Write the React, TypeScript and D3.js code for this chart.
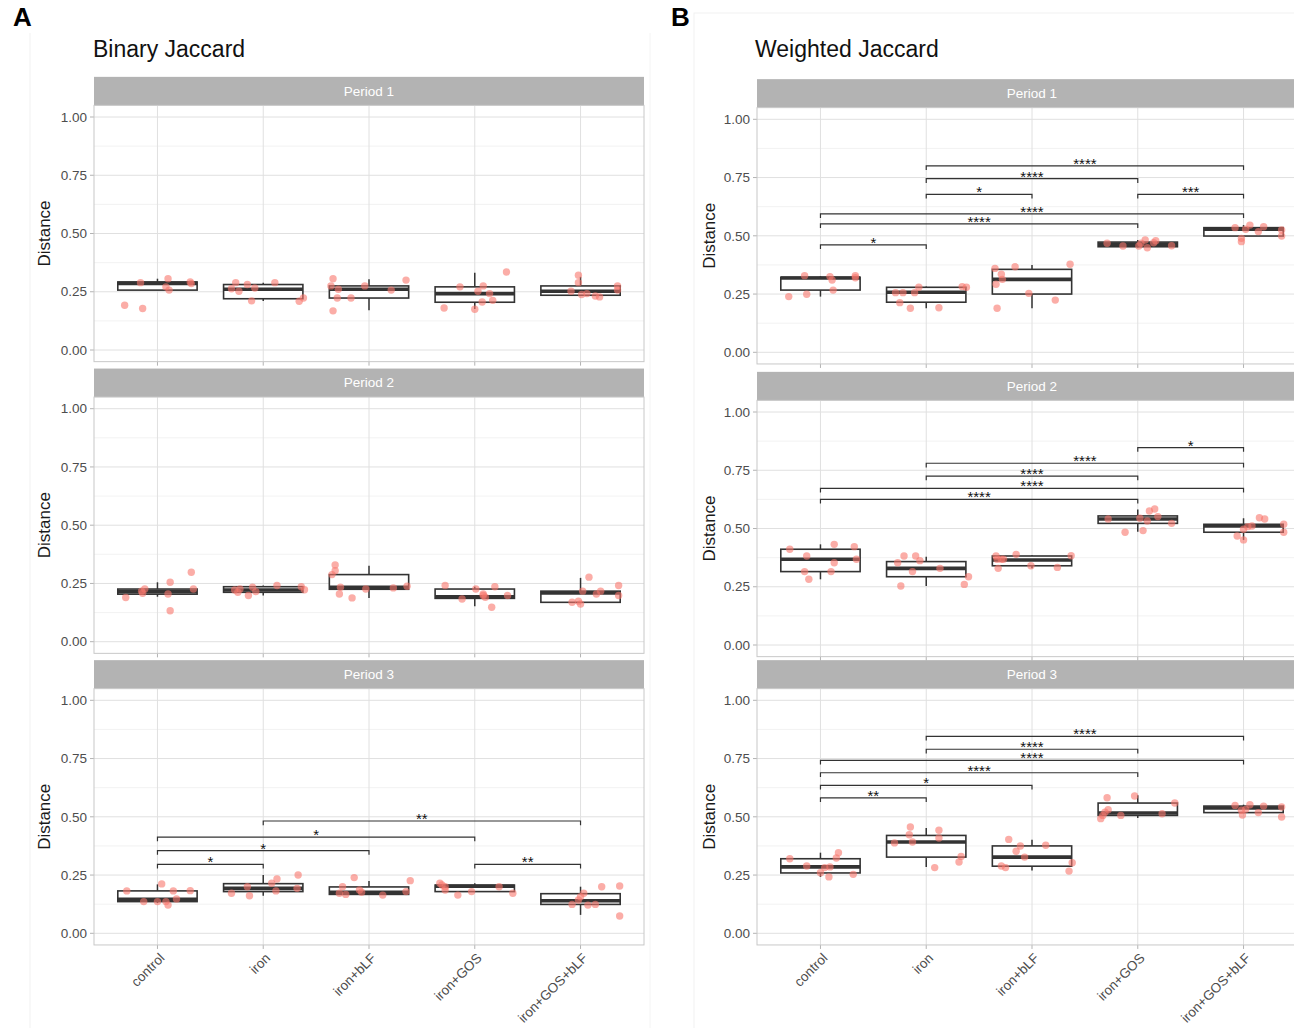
import React from "react";
import * as d3 from "d3";

const groups = ["control", "iron", "iron+bLF", "iron+GOS", "iron+GOS+bLF"];
const periods = ["Period 1", "Period 2", "Period 3"];
const yTicks = [0, 0.25, 0.5, 0.75, 1];
const yMinor = [0.125, 0.375, 0.625, 0.875];
const yTickLabels = ["0.00", "0.25", "0.50", "0.75", "1.00"];

// Box statistics per group: [lower whisker, q1, median, q3, upper whisker]
const binaryP1Box = [
  [0.257, 0.257, 0.286, 0.292, 0.306],
  [0.21, 0.22, 0.261, 0.281, 0.289],
  [0.171, 0.223, 0.261, 0.275, 0.304],
  [0.176, 0.205, 0.242, 0.271, 0.332],
  [0.235, 0.235, 0.252, 0.275, 0.314],
];
const binaryP2Box = [
  [0.193, 0.204, 0.215, 0.226, 0.255],
  [0.198, 0.212, 0.222, 0.236, 0.241],
  [0.188, 0.225, 0.234, 0.288, 0.326],
  [0.152, 0.186, 0.193, 0.226, 0.236],
  [0.169, 0.169, 0.209, 0.217, 0.274],
];
const binaryP3Box = [
  [0.13, 0.136, 0.146, 0.182, 0.21],
  [0.161, 0.179, 0.193, 0.213, 0.25],
  [0.167, 0.167, 0.176, 0.199, 0.224],
  [0.179, 0.179, 0.202, 0.207, 0.215],
  [0.079, 0.124, 0.14, 0.17, 0.2],
];
const weightedP1Box = [
  [0.239, 0.267, 0.319, 0.322, 0.327],
  [0.189, 0.215, 0.258, 0.279, 0.282],
  [0.189, 0.25, 0.313, 0.356, 0.375],
  [0.45, 0.453, 0.463, 0.473, 0.482],
  [0.499, 0.499, 0.528, 0.535, 0.546],
];
const weightedP2Box = [
  [0.282, 0.315, 0.368, 0.411, 0.432],
  [0.253, 0.293, 0.329, 0.358, 0.379],
  [0.329, 0.34, 0.365, 0.382, 0.385],
  [0.486, 0.522, 0.541, 0.554, 0.582],
  [0.451, 0.484, 0.511, 0.518, 0.544],
];
const weightedP3Box = [
  [0.242, 0.259, 0.285, 0.32, 0.346],
  [0.285, 0.327, 0.392, 0.42, 0.452],
  [0.27, 0.288, 0.327, 0.375, 0.402],
  [0.495, 0.506, 0.516, 0.559, 0.592],
  [0.518, 0.518, 0.538, 0.546, 0.552],
];

// Samples per group: [horizontal jitter in category units, distance]
const binaryP1Pts = [
  [[-0.31, 0.192], [-0.14, 0.178], [-0.16, 0.289], [0.1, 0.306], [0.08, 0.271], [0.11, 0.257], [0.31, 0.292], [0.32, 0.285]],
  [[-0.26, 0.289], [-0.3, 0.263], [-0.23, 0.252], [-0.15, 0.281], [-0.08, 0.266], [-0.11, 0.211], [0.11, 0.289], [0.34, 0.209], [0.38, 0.223]],
  [[-0.34, 0.306], [-0.36, 0.275], [-0.29, 0.261], [-0.3, 0.223], [-0.17, 0.223], [-0.34, 0.168], [-0.04, 0.275], [0.21, 0.257], [0.35, 0.3]],
  [[0.3, 0.335], [-0.14, 0.271], [0.08, 0.275], [0.03, 0.252], [0.14, 0.242], [0.07, 0.206], [0.17, 0.213], [-0.29, 0.18], [0.0, 0.175]],
  [[-0.02, 0.321], [-0.02, 0.289], [-0.09, 0.252], [0.01, 0.238], [0.06, 0.242], [0.14, 0.232], [0.18, 0.228], [0.35, 0.275], [0.35, 0.257]],
];
const binaryP2Pts = [
  [[-0.3, 0.19], [-0.14, 0.208], [-0.12, 0.226], [-0.15, 0.217], [0.12, 0.255], [0.1, 0.205], [0.12, 0.133], [0.32, 0.298], [0.34, 0.226]],
  [[-0.27, 0.222], [-0.24, 0.212], [-0.22, 0.226], [-0.14, 0.198], [-0.1, 0.234], [-0.07, 0.215], [0.13, 0.241], [0.36, 0.236], [0.39, 0.223]],
  [[-0.32, 0.329], [-0.32, 0.305], [-0.35, 0.288], [-0.27, 0.234], [-0.28, 0.205], [-0.16, 0.188], [-0.03, 0.226], [0.23, 0.231], [0.36, 0.238]],
  [[-0.28, 0.241], [-0.12, 0.183], [0.01, 0.226], [0.08, 0.205], [0.1, 0.191], [0.08, 0.198], [0.16, 0.148], [0.19, 0.236], [0.31, 0.198]],
  [[0.08, 0.277], [0.02, 0.217], [-0.08, 0.169], [0.0, 0.162], [-0.02, 0.174], [0.15, 0.205], [0.19, 0.217], [0.36, 0.241], [0.36, 0.198]],
];
const binaryP3Pts = [
  [[-0.29, 0.182], [-0.13, 0.136], [0.0, 0.136], [0.04, 0.212], [0.08, 0.136], [0.1, 0.121], [0.15, 0.182], [0.18, 0.147], [0.31, 0.183]],
  [[-0.3, 0.172], [-0.15, 0.2], [-0.13, 0.161], [0.08, 0.215], [0.13, 0.233], [0.12, 0.182], [0.33, 0.25], [0.32, 0.193]],
  [[-0.14, 0.239], [-0.25, 0.2], [-0.28, 0.172], [-0.22, 0.167], [-0.09, 0.186], [-0.07, 0.176], [0.13, 0.164], [0.35, 0.179], [0.39, 0.226]],
  [[-0.33, 0.215], [-0.31, 0.207], [-0.28, 0.2], [-0.28, 0.186], [-0.16, 0.164], [-0.03, 0.179], [0.23, 0.2], [0.36, 0.172]],
  [[0.03, 0.172], [0.0, 0.157], [-0.02, 0.143], [-0.08, 0.124], [0.07, 0.121], [0.14, 0.124], [0.2, 0.2], [0.37, 0.203], [0.37, 0.074]],
];
const weightedP1Pts = [
  [[-0.3, 0.239], [-0.13, 0.249], [-0.15, 0.329], [0.09, 0.325], [0.11, 0.31], [0.12, 0.267], [0.33, 0.329], [0.33, 0.32]],
  [[-0.29, 0.256], [-0.22, 0.256], [-0.25, 0.213], [-0.15, 0.189], [-0.11, 0.256], [-0.07, 0.279], [0.12, 0.191], [0.34, 0.282], [0.38, 0.279]],
  [[-0.35, 0.36], [-0.29, 0.335], [-0.28, 0.313], [-0.34, 0.292], [-0.33, 0.189], [-0.16, 0.367], [-0.03, 0.253], [0.22, 0.224], [0.36, 0.378]],
  [[-0.29, 0.468], [-0.14, 0.456], [0.01, 0.456], [0.07, 0.482], [0.09, 0.449], [0.15, 0.47], [0.17, 0.479], [0.03, 0.468], [0.32, 0.457]],
  [[-0.08, 0.535], [-0.02, 0.489], [-0.02, 0.475], [0.02, 0.528], [0.06, 0.546], [0.14, 0.518], [0.19, 0.539], [0.36, 0.525], [0.36, 0.499]],
];
const weightedP2Pts = [
  [[-0.29, 0.411], [-0.13, 0.382], [-0.15, 0.315], [-0.11, 0.282], [0.13, 0.432], [0.13, 0.353], [0.1, 0.315], [0.32, 0.422], [0.34, 0.368]],
  [[-0.27, 0.353], [-0.21, 0.382], [-0.1, 0.382], [-0.06, 0.362], [-0.13, 0.315], [-0.24, 0.253], [0.13, 0.329], [0.36, 0.26], [0.4, 0.293]],
  [[-0.34, 0.382], [-0.33, 0.368], [-0.29, 0.368], [-0.27, 0.368], [-0.32, 0.329], [-0.15, 0.389], [-0.01, 0.34], [0.24, 0.333], [0.37, 0.383]],
  [[-0.28, 0.541], [-0.12, 0.484], [0.02, 0.544], [0.05, 0.491], [0.09, 0.532], [0.11, 0.575], [0.16, 0.584], [0.19, 0.551], [0.32, 0.522]],
  [[-0.06, 0.468], [0.0, 0.451], [0.0, 0.497], [0.04, 0.508], [0.08, 0.511], [0.15, 0.546], [0.2, 0.541], [0.38, 0.518], [0.38, 0.484]],
];
const weightedP3Pts = [
  [[-0.29, 0.32], [-0.13, 0.289], [0.0, 0.26], [0.04, 0.282], [0.08, 0.242], [0.09, 0.285], [0.15, 0.323], [0.17, 0.346], [0.31, 0.253]],
  [[-0.3, 0.388], [-0.15, 0.456], [-0.16, 0.423], [-0.13, 0.392], [0.08, 0.282], [0.12, 0.442], [0.12, 0.409], [0.31, 0.306], [0.33, 0.33]],
  [[-0.29, 0.289], [-0.25, 0.282], [-0.22, 0.403], [-0.15, 0.352], [-0.11, 0.375], [-0.07, 0.327], [0.13, 0.378], [0.38, 0.303], [0.35, 0.267]],
  [[-0.35, 0.492], [-0.33, 0.506], [-0.31, 0.52], [-0.28, 0.53], [-0.29, 0.582], [-0.16, 0.506], [-0.03, 0.589], [0.23, 0.513], [0.35, 0.559]],
  [[-0.08, 0.549], [-0.02, 0.528], [-0.01, 0.508], [0.06, 0.552], [0.14, 0.518], [0.19, 0.546], [0.02, 0.532], [0.36, 0.542], [0.36, 0.499]],
];

// Pairwise comparisons: [group index a, group index b, bracket height, significance]
const binaryP1Sig: [number, number, number, string][] = [];
const binaryP2Sig: [number, number, number, string][] = [];
const binaryP3Sig: [number, number, number, string][] = [
  [0, 1, 0.296, "*"],
  [0, 2, 0.355, "*"],
  [0, 3, 0.413, "*"],
  [1, 4, 0.482, "**"],
  [3, 4, 0.296, "**"],
];
const weightedP1Sig: [number, number, number, string][] = [
  [0, 1, 0.461, "*"],
  [0, 3, 0.551, "****"],
  [0, 4, 0.594, "****"],
  [1, 2, 0.678, "*"],
  [3, 4, 0.678, "***"],
  [1, 3, 0.745, "****"],
  [1, 4, 0.8, "****"],
];
const weightedP2Sig: [number, number, number, string][] = [
  [0, 3, 0.625, "****"],
  [0, 4, 0.672, "****"],
  [1, 3, 0.725, "****"],
  [1, 4, 0.78, "****"],
  [3, 4, 0.847, "*"],
];
const weightedP3Sig: [number, number, number, string][] = [
  [0, 1, 0.581, "**"],
  [0, 2, 0.635, "*"],
  [0, 3, 0.689, "****"],
  [0, 4, 0.742, "****"],
  [1, 3, 0.79, "****"],
  [1, 4, 0.845, "****"],
];

const FONT = "'Liberation Sans', Arial, Helvetica, sans-serif";
const UNIT = 233; // pixels per 1.0 distance
const PANEL_W = 550;
const STRIP_H = 28.5;

type FacetProps = {
  left: number;
  zero: number;
  label: string;
  boxes: number[][];
  points: number[][][];
  sig: [number, number, number, string][];
  showX: boolean;
  axisTitleX: number;
};

function Facet({ left, zero, label, boxes, points, sig, showX, axisTitleX }: FacetProps) {
  const y = d3.scaleLinear().domain([-0.05, 1.05]).range([zero + 0.05 * UNIT, zero - 1.05 * UNIT]);
  const x = d3.scalePoint<string>().domain(groups).range([left, left + PANEL_W]).padding(0.6);
  const step = x.step();
  const top = y(1.05);
  const bottom = y(-0.05);
  const boxW = step * 0.75;
  const tip = 0.018;

  return (
    <g>
      {/* strip */}
      <rect x={left} y={top - STRIP_H} width={PANEL_W} height={STRIP_H} fill="#b3b3b3" />
      <text x={left + PANEL_W / 2} y={top - STRIP_H / 2 + 4.5} fill="#ffffff" fontSize={13.5} textAnchor="middle" fontFamily={FONT}>
        {label}
      </text>
      {/* grid */}
      {yMinor.map((v) => (
        <line key={"m" + v} x1={left} x2={left + PANEL_W} y1={y(v)} y2={y(v)} stroke="#efefef" strokeWidth={0.8} />
      ))}
      {yTicks.map((v) => (
        <line key={"g" + v} x1={left} x2={left + PANEL_W} y1={y(v)} y2={y(v)} stroke="#e0e0e0" strokeWidth={1} />
      ))}
      {groups.map((g) => (
        <line key={"v" + g} x1={x(g)} x2={x(g)} y1={top} y2={bottom} stroke="#e0e0e0" strokeWidth={1} />
      ))}
      {/* y axis */}
      {yTicks.map((v, i) => (
        <g key={"t" + v}>
          <line x1={left - 4} x2={left} y1={y(v)} y2={y(v)} stroke="#b3b3b3" strokeWidth={1} />
          <text x={left - 7} y={y(v) + 4.7} fontSize={13.5} fill="#4d4d4d" textAnchor="end" fontFamily={FONT}>
            {yTickLabels[i]}
          </text>
        </g>
      ))}
      <text
        transform={`translate(${axisTitleX},${y(0.5)}) rotate(-90)`}
        fontSize={17}
        fill="#1a1a1a"
        textAnchor="middle"
        fontFamily={FONT}
      >
        Distance
      </text>
      {/* x axis */}
      {groups.map((g) => (
        <line key={"xt" + g} x1={x(g)} x2={x(g)} y1={bottom} y2={bottom + 4} stroke="#b3b3b3" strokeWidth={1} />
      ))}
      {showX &&
        groups.map((g) => (
          <text
            key={"xl" + g}
            transform={`translate(${(x(g) as number) + 1},${bottom + 7}) rotate(-45)`}
            fontSize={13.5}
            fill="#4d4d4d"
            textAnchor="end"
            dy="0.72em"
            fontFamily={FONT}
          >
            {g}
          </text>
        ))}
      {/* boxes */}
      {boxes.map((b, i) => {
        const cx = x(groups[i]) as number;
        const [lo, q1, med, q3, hi] = b;
        return (
          <g key={"b" + i} stroke="#333333" fill="none">
            <line x1={cx} x2={cx} y1={y(q3)} y2={y(hi)} strokeWidth={1.5} />
            <line x1={cx} x2={cx} y1={y(q1)} y2={y(lo)} strokeWidth={1.5} />
            <rect x={cx - boxW / 2} y={y(q3)} width={boxW} height={y(q1) - y(q3)} fill="#ffffff" strokeWidth={1.6} />
            <line x1={cx - boxW / 2} x2={cx + boxW / 2} y1={y(med)} y2={y(med)} strokeWidth={3.6} />
          </g>
        );
      })}
      {/* jittered samples */}
      {points.map((pts, i) =>
        pts.map((p, j) => (
          <circle
            key={"p" + i + "-" + j}
            cx={(x(groups[i]) as number) + p[0] * step}
            cy={y(p[1])}
            r={3.7}
            fill="#F8766D"
            fillOpacity={0.6}
          />
        ))
      )}
      {/* significance brackets */}
      {sig.map(([a, b, h, s], k) => {
        const xa = x(groups[a]) as number;
        const xb = x(groups[b]) as number;
        return (
          <g key={"s" + k}>
            <path
              d={`M${xa},${y(h - tip)}V${y(h)}H${xb}V${y(h - tip)}`}
              fill="none"
              stroke="#333333"
              strokeWidth={1.2}
            />
            <text x={(xa + xb) / 2} y={y(h) + 3} fontSize={15} textAnchor="middle" fill="#111111" fontFamily={FONT}>
              {s}
            </text>
          </g>
        );
      })}
      {/* panel border */}
      <rect x={left} y={top} width={PANEL_W} height={bottom - top} fill="none" stroke="#c8c8c8" strokeWidth={1} />
    </g>
  );
}

export default function App() {
  const binaryBoxes = [binaryP1Box, binaryP2Box, binaryP3Box];
  const binaryPts = [binaryP1Pts, binaryP2Pts, binaryP3Pts];
  const binarySig = [binaryP1Sig, binaryP2Sig, binaryP3Sig];
  const weightedBoxes = [weightedP1Box, weightedP2Box, weightedP3Box];
  const weightedPts = [weightedP1Pts, weightedP2Pts, weightedP3Pts];
  const weightedSig = [weightedP1Sig, weightedP2Sig, weightedP3Sig];
  const zeroA = [350, 641.7, 933.3];
  const zeroB = [352.3, 645, 933.3];

  return (
    <svg
      width={1294}
      height={1028}
      viewBox="0 0 1294 1028"
      style={{ position: "absolute", left: 0, top: 0, background: "#ffffff" }}
      fontFamily={FONT}
    >
      <rect x={0} y={0} width={1294} height={1028} fill="#ffffff" />
      {/* faint sub-figure frames */}
      <line x1={30} x2={30} y1={33} y2={1028} stroke="#f1f1f1" strokeWidth={1} />
      <line x1={650} x2={650} y1={33} y2={1028} stroke="#f4f4f4" strokeWidth={1} />
      <rect x={694} y={13} width={610} height={1020} fill="none" stroke="#f1f1f1" strokeWidth={1} />

      <text x={13} y={26} fontSize={26} fontWeight="bold" fill="#000">A</text>
      <text x={93} y={57} fontSize={23} fill="#111">Binary Jaccard</text>
      <text x={671} y={26} fontSize={26} fontWeight="bold" fill="#000">B</text>
      <text x={755} y={57} fontSize={23} fill="#111">Weighted Jaccard</text>

      {periods.map((p, i) => (
        <Facet
          key={"A" + p}
          left={94}
          zero={zeroA[i]}
          label={p}
          boxes={binaryBoxes[i]}
          points={binaryPts[i]}
          sig={binarySig[i]}
          showX={i === 2}
          axisTitleX={50}
        />
      ))}
      {periods.map((p, i) => (
        <Facet
          key={"B" + p}
          left={757}
          zero={zeroB[i]}
          label={p}
          boxes={weightedBoxes[i]}
          points={weightedPts[i]}
          sig={weightedSig[i]}
          showX={i === 2}
          axisTitleX={715}
        />
      ))}
    </svg>
  );
}
